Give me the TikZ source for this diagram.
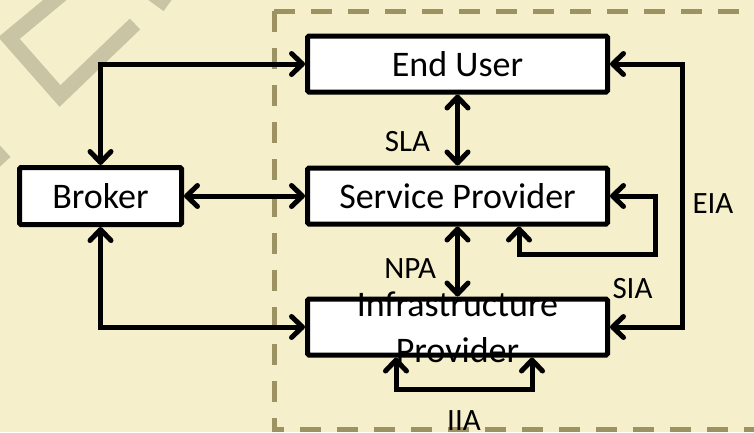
\documentclass[tikz,border=0pt]{standalone}
\usepackage{fontspec}
\setmainfont{Carlito}
\usetikzlibrary{arrows.meta, positioning}
\definecolor{pagebg}{HTML}{F5F0CB}
\definecolor{wmark}{HTML}{C9C5A4}
\definecolor{dashline}{HTML}{9C9262}

\begin{document}
\begin{tikzpicture}[
      x=1pt, y=-1pt,
      box/.style  = {draw, line width=5pt, rounded corners=1.5pt, fill=white,
                     minimum width=300pt, minimum height=56pt, inner sep=0pt,
                     font=\fontsize{36}{46}\selectfont, align=center},
      arr/.style  = {<->, >={Straight Barb[length=11pt, width=21pt, round]},
                     line width=5pt},
      lbl/.style  = {font=\fontsize{31}{37}\selectfont, inner sep=0pt}
    ]

    \clip (0,0) rectangle (754,432);
    \fill[pagebg] (0,0) rectangle (754,432);

    % watermark
    \draw[wmark, line width=15pt] (62,-6) -- (9,38) -- (60,96) -- (135,24);
    \draw[wmark, line width=15pt] (150,-8) -- (168,5);
    \draw[wmark, line width=15pt] (-8,148) -- (5,162);

    % dashed region
    \draw[dashline, line width=5pt, dash pattern=on 21pt off 16pt] (274,11) -- (770,11);
    \draw[dashline, line width=5pt, dash pattern=on 21pt off 16pt] (274,11) -- (274,429) -- (770,429);

    \node[box]                        (eu)       at (457.5,64) {End User};
    \node[box, below=71pt of eu]      (sp)       {Service Provider};
    \node[box, below=70pt of sp]      (infra)    {};
    \node[font=\fontsize{36}{46}\selectfont, align=center]
                                      (infratxt) at (infra) {Infrastructure\\Provider};
    \node[box, minimum width=162pt, minimum height=57pt, left=121pt of sp]
                                      (broker)   {Broker};

    \draw[arr] (broker.north) |- (eu.west);
    \draw[arr] (broker)       -- (sp);
    \draw[arr] (broker.south) |- (infra.west);
    \draw[arr] (eu) -- node[lbl, pos=0.66, left=25pt] (sla) {SLA} (sp);
    \draw[arr] (sp) -- node[lbl, pos=0.6, left=19pt] (npa) {NPA} (infra);
    \draw[arr] (sp.east) -- ++(45,0) -- ++(0,58.5)
                 node[lbl, below left=21pt and 0pt] (sia) {SIA}
                 -| ([xshift=61.5pt]sp.south);
    \draw[arr] (eu.east) -- ++(72,0)
                 |- node[lbl, pos=0.265, right=8pt] (eia) {EIA} (infra.east);
    \draw[arr] ([xshift=-61.5pt]infra.south) -- ++(0,32)
                 -| node[lbl, pos=0.25, below=19pt] (iia) {IIA} ([xshift=74.5pt]infra.south);
  \end{tikzpicture}
\end{document}
